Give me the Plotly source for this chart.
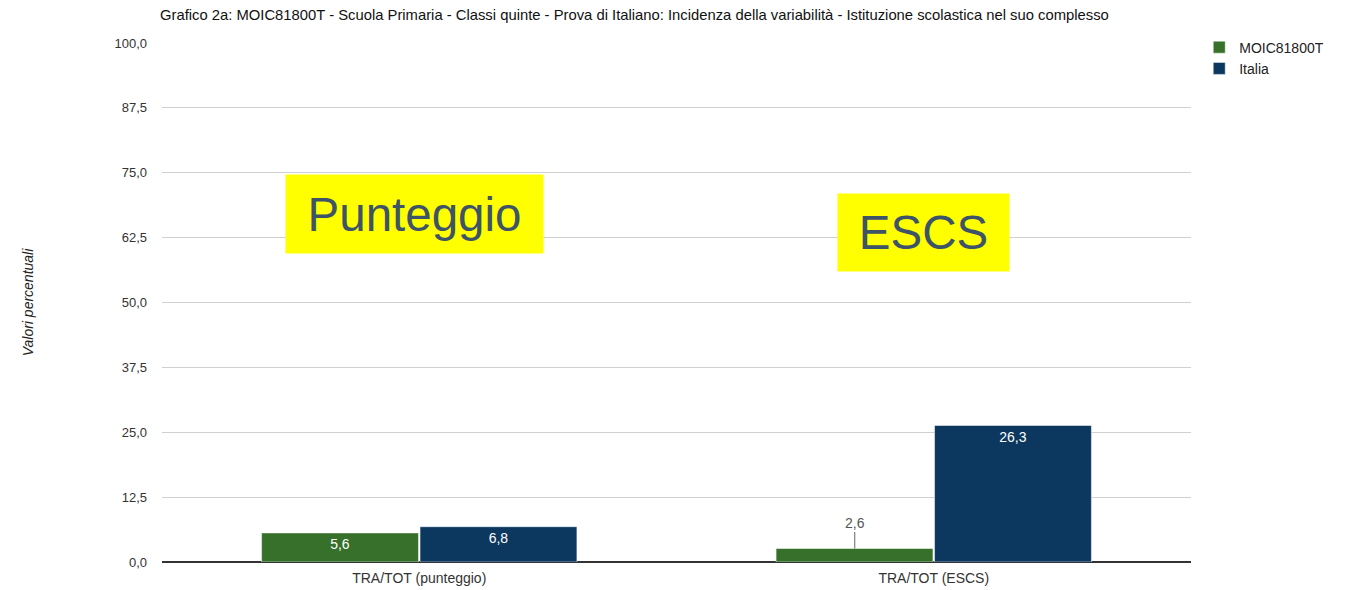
import plotly.graph_objects as go

categories = ["TRA/TOT (punteggio)", "TRA/TOT (ESCS)"]
series_names = ["MOIC81800T", "Italia"]
school_values = [5.6, 2.6]
italy_values = [6.8, 26.3]
y_ticks = [0, 12.5, 25, 37.5, 50, 62.5, 75, 87.5, 100]

colors = {"MOIC81800T": "#36702b", "Italia": "#0c3860"}

fig = go.Figure()

def fmt(v):
    return f"{v:.1f}".replace(".", ",")

school_text = [fmt(v) if v >= 5 else "" for v in school_values]
italy_text = [fmt(v) for v in italy_values]

fig.add_trace(go.Bar(
    name=series_names[0], x=categories, y=school_values,
    marker=dict(color=colors["MOIC81800T"], line=dict(color="#ffffff", width=0.5)),
    text=school_text, textposition="inside", insidetextanchor="end",
    textfont=dict(color="white", size=14, family="Arial"),
))
fig.add_trace(go.Bar(
    name=series_names[1], x=categories, y=italy_values,
    marker=dict(color=colors["Italia"], line=dict(color="#ffffff", width=0.5)),
    text=italy_text, textposition="inside", insidetextanchor="end",
    textfont=dict(color="white", size=14, family="Arial"),
))

# small value label with leader line
for cat, v in zip(categories, school_values):
    if v < 5:
        fig.add_annotation(
            x=cat, y=v, xref="x", yref="y", xshift=-79,
            text=fmt(v), showarrow=True, arrowhead=0, arrowwidth=1,
            arrowcolor="#666666", ax=0, ay=-26,
            font=dict(size=14, color="#555555", family="Arial"),
        )

# highlight boxes
fig.add_annotation(
    x=0.2454, y=67.0, xref="paper", yref="y", text="Punteggio",
    xanchor="center", yanchor="middle",
    showarrow=False, bgcolor="#ffff00", width=257, height=78, borderpad=0,
    font=dict(size=47.5, color="#3d5367", family="Arial"),
)
fig.add_annotation(
    x=0.7401, y=63.5, xref="paper", yref="y", text="ESCS",
    xanchor="center", yanchor="middle",
    showarrow=False, bgcolor="#ffff00", width=171, height=77, borderpad=0,
    font=dict(size=47.5, color="#3d5367", family="Arial"),
)

# figure is 8px smaller to compensate for page body margin
W, H = 1337, 582
fig.update_layout(
    width=W, height=H,
    margin=dict(l=154, r=154, t=35, b=28, autoexpand=False),
    paper_bgcolor="white", plot_bgcolor="white",
    separators=",.",
    barmode="group", bargap=0.384, bargroupgap=0.01,
    font=dict(family="Arial", size=13, color="#222222"),
    title=dict(
        text="Grafico 2a: MOIC81800T - Scuola Primaria - Classi quinte - Prova di Italiano: Incidenza della variabilità - Istituzione scolastica nel suo complesso",
        x=152/W, xanchor="left", xref="container",
        y=1 - 7/H, yanchor="middle", yref="container",
        font=dict(size=14.8, color="#111111", family="Arial"),
    ),
    legend=dict(
        x=1.008, y=1.022, xanchor="left", yanchor="top",
        font=dict(size=14, color="#222222", family="Arial"),
        bgcolor="rgba(0,0,0,0)", tracegroupgap=0,
    ),
    showlegend=True,
)

fig.update_yaxes(
    range=[0, 100], tickvals=y_ticks, tickformat=".1f", automargin=False,
    showgrid=True, gridcolor="#d0d0d0", gridwidth=1,
    zeroline=True, zerolinecolor="#333333", zerolinewidth=1.8,
    showline=False, ticks="", ticklabelstandoff=14,
    tickfont=dict(size=13, color="#333333"),
    title=dict(text="<i>Valori percentuali</i>", standoff=77,
               font=dict(size=14, color="#222222")),
)
fig.update_xaxes(
    showgrid=False, showline=False, ticks="", ticklabelstandoff=6, automargin=False,
    tickfont=dict(size=14, color="#333333"),
)

fig.write_html("out.html")
